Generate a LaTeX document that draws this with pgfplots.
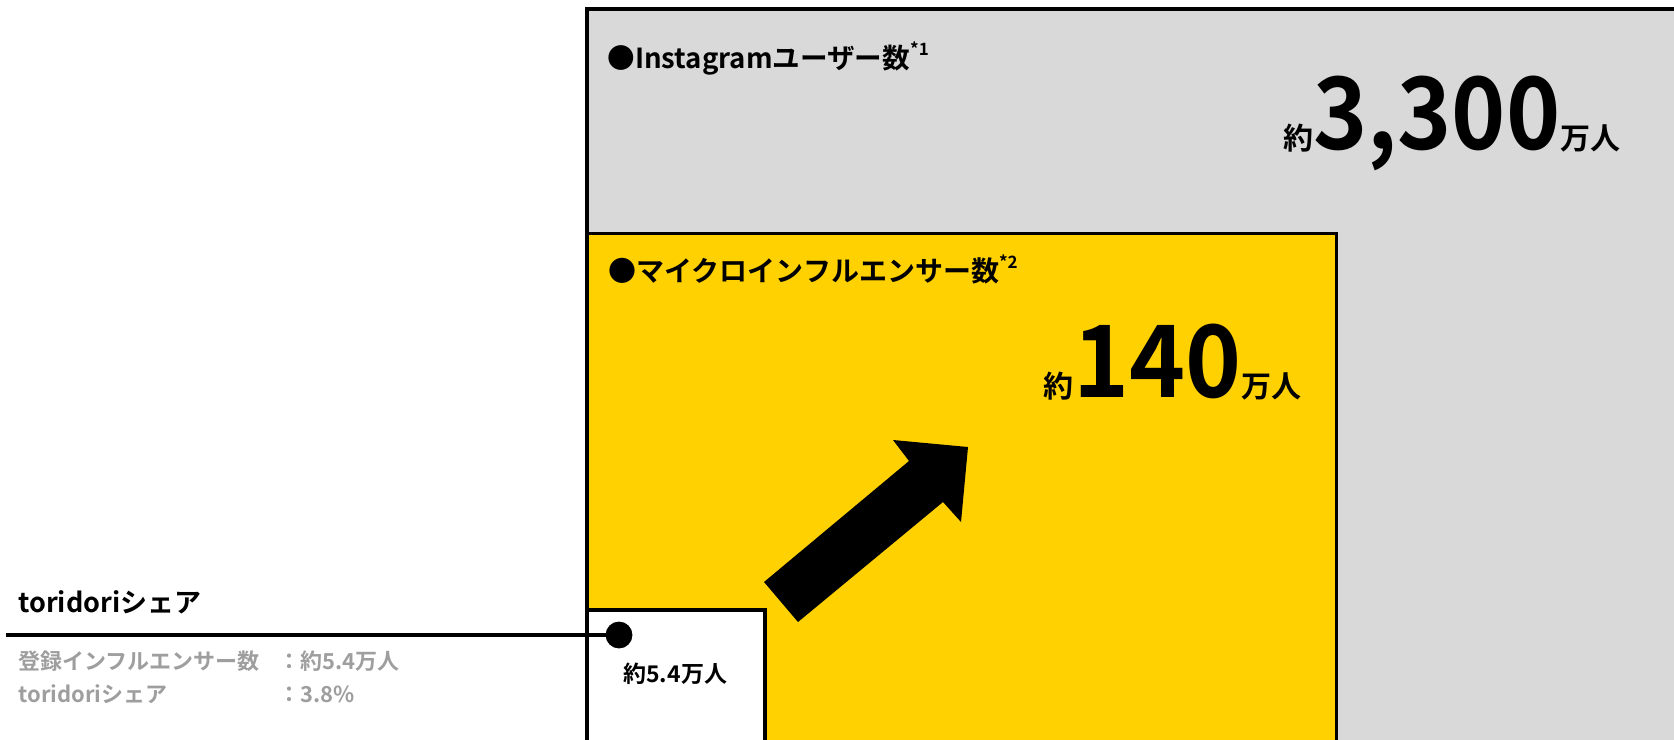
\documentclass[border=0pt]{standalone}
\usepackage{fontspec}
\setmainfont{Noto Sans CJK JP}[BoldFont={Noto Sans CJK JP Bold}]
\usepackage{pgfplots}
\pgfplotsset{compat=1.18}

\definecolor{boxgray}{HTML}{D9D9D9}
\definecolor{boxyellow}{HTML}{FFD100}
\definecolor{txtgray}{HTML}{9E9E9E}

% 1 px of the reference = 0.5pt
\newcommand{\fs}[1]{\fontsize{#1}{#1}\selectfont}

\begin{document}
\begin{tikzpicture}
\begin{axis}[
  at={(0,0)}, anchor=south west,
  scale only axis, width=837pt, height=369.5pt,
  xmin=0, xmax=1674, ymin=0, ymax=739, y dir=reverse,
  hide axis,
]
% Instagram users (about 33,000,000)
\addplot[draw=black, line width=1.75pt, fill=boxgray]
  coordinates {(587,9) (1720,9) (1720,780) (587,780)} -- cycle;
% micro influencers (about 1,400,000)
\addplot[draw=black, line width=1.75pt, fill=boxyellow]
  coordinates {(587,233.5) (1336.5,233.5) (1336.5,780) (587,780)} -- cycle;
% toridori registered (about 54,000)
\addplot[draw=black, line width=1.75pt, fill=white]
  coordinates {(587,610) (765,610) (765,780) (587,780)} -- cycle;
% arrow
\addplot[draw=none, fill=black]
  coordinates {(764,582) (798,622) (943,502) (961,522) (968,447) (893,440) (909,461)} -- cycle;
% leader line and dot
\addplot[draw=black, line width=1.6pt] coordinates {(6,635) (619,635)};
\addplot[only marks, mark=*, mark size=6.5pt, black] coordinates {(619,635)};

\node[anchor=base west, inner sep=0pt] at (axis cs:607,68)
  {\fs{13.8pt}\bfseries ●Instagramユーザー数\raisebox{0.45em}{\fs{8.5pt}*1}};
\node[anchor=base west, inner sep=0pt] at (axis cs:1283,149)
  {\bfseries{\fs{15pt}約}\scalebox{0.92}[1]{\fs{50pt}3,300}{\fs{15pt}万人}};

\node[anchor=base west, inner sep=0pt] at (axis cs:608,281)
  {\fs{14pt}\bfseries ●マイクロインフルエンサー数\raisebox{0.45em}{\fs{8.5pt}*2}};
\node[anchor=base west, inner sep=0pt] at (axis cs:1043,397)
  {\bfseries{\fs{15pt}約}\scalebox{0.95}[1]{\fs{50pt}140}{\fs{15pt}万人}};

\node[anchor=base west, inner sep=0pt] at (axis cs:623,682)
  {\fs{11.5pt}\bfseries 約5.4万人};

\node[anchor=base west, inner sep=0pt] at (axis cs:18,612)
  {\fs{13.5pt}\bfseries toridoriシェア};
\node[anchor=base west, inner sep=0pt, text=txtgray] at (axis cs:18,669)
  {\fs{11pt}\bfseries 登録インフルエンサー数};
\node[anchor=base west, inner sep=0pt, text=txtgray] at (axis cs:278,669)
  {\fs{11pt}\bfseries ：約5.4万人};
\node[anchor=base west, inner sep=0pt, text=txtgray] at (axis cs:18,702)
  {\fs{11pt}\bfseries toridoriシェア};
\node[anchor=base west, inner sep=0pt, text=txtgray] at (axis cs:278,702)
  {\fs{11pt}\bfseries ：3.8\%};
\end{axis}
\pgfresetboundingbox
\path[use as bounding box] (0,0) rectangle (837pt,369.5pt);
\end{tikzpicture}
\end{document}
